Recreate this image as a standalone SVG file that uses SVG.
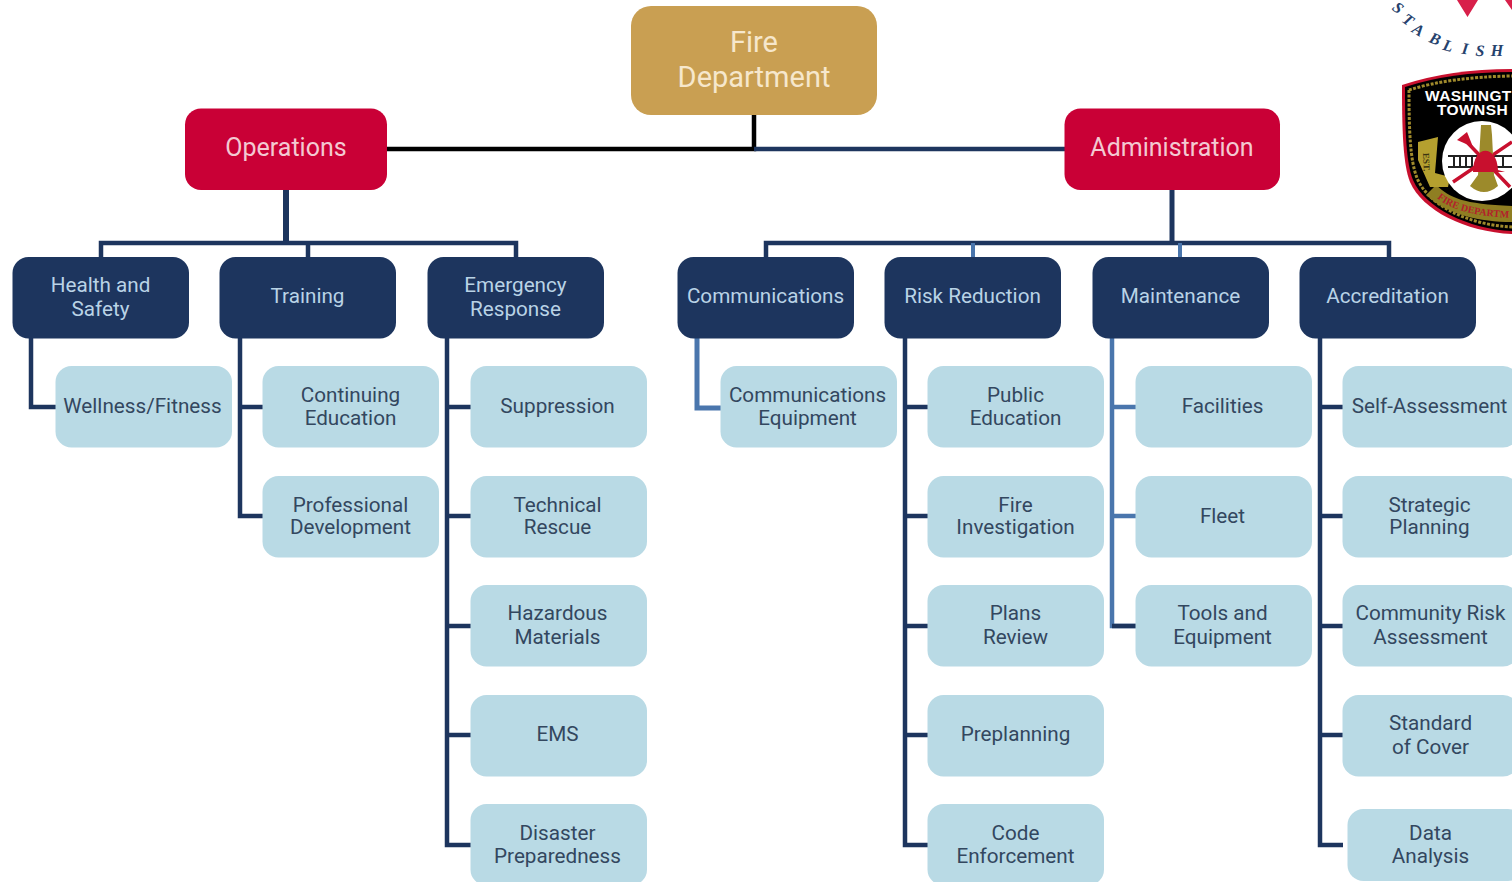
<svg xmlns="http://www.w3.org/2000/svg" width="1512" height="882" viewBox="0 0 1512 882">
<style>
text{font-family:Roboto,"Liberation Sans",sans-serif;text-anchor:middle}
.c{fill:none;stroke:#1d355e;stroke-width:4.5}
.m{fill:none;stroke:#4a76ad;stroke-width:4.5}
.k{fill:none;stroke:#000;stroke-width:4.5}
.d rect,.l rect{width:176.500px;height:81.500px;rx:16px}
.d text,.l text{transform:translate(-.5px,-.5px)}
.d rect{fill:#1d355e}.d text{fill:#b9d3e6;font-size:20.700px}
.l rect{fill:#b9dae5}.l text{fill:#33475f;font-size:20.700px}
.r rect{fill:#c90036}.r text{fill:#f3c9d2;font-size:25px}
#logo .arc text{font-family:"Liberation Serif",serif;font-weight:700;font-style:italic;font-size:16px;fill:#26426d}
#logo .sb text{font-family:"Liberation Sans",sans-serif;font-weight:700;font-size:15.500px;fill:#fff;text-anchor:start;letter-spacing:.4px}
#logo .gd{font-family:"Liberation Serif",serif;font-weight:700;font-size:10px;text-anchor:start}
</style>
<rect width="1512" height="882" fill="#fff"/>
<g id="connectors">
<path class="k" d="M754 115V149H387"/>
<path class="c" d="M754 149H1065"/>
<path class="c" d="M286 190V243" style="stroke-width:6"/>
<path class="c" d="M101 257V243H516V257M308 243V257"/>
<path class="c" d="M1172 190V243" style="stroke-width:5"/>
<path class="c" d="M766 257V243H1389V257"/>
<path class="m" d="M973 243V257M1180 243V257" style="stroke-width:4"/>
<path class="c" d="M31 338V407H56"/>
<path class="c" d="M240 338V516H263M240 407H263"/>
<path class="c" d="M447 338V845H471M447 407H471M447 516H471M447 626H471M447 735H471"/>
<path class="m" d="M697 338V408H721" style="stroke-width:5"/>
<path class="c" d="M905 338V845H929M905 407H929M905 516H929M905 626H929M905 735H929"/>
<path class="m" d="M1112 338V626H1136M1112 407H1136M1112 516H1136"/>
<path class="c" d="M1112 626H1136"/>
<path class="c" d="M1320 338V845H1343M1320 407H1343M1320 516H1343M1320 626H1343M1320 735H1343"/>
</g>
<g id="fire-department"><rect x="631" y="6" width="246" height="109" rx="20" fill="#c99f52"/><text x="754" y="52" font-size="29" fill="#f6e7cc">Fire</text><text x="754" y="87" font-size="29" fill="#f6e7cc">Department</text></g>
<g id="operations" class="r"><rect x="185" y="108.500" width="202" height="81.500" rx="16"/><text x="286" y="156">Operations</text></g>
<g id="administration" class="r"><rect x="1064.500" y="108.500" width="215.500" height="81.500" rx="16"/><text x="1172" y="156">Administration</text></g>

<g id="health-safety" class="d"><rect x="12.500" y="257"/><text x="101" y="292">Health and</text><text x="101" y="316">Safety</text></g>
<g id="training" class="d"><rect x="219.500" y="257"/><text x="308" y="303">Training</text></g>
<g id="emergency-response" class="d"><rect x="427.500" y="257"/><text x="516" y="292">Emergency</text><text x="516" y="316">Response</text></g>
<g id="communications" class="d"><rect x="677.500" y="257"/><text x="766" y="303">Communications</text></g>
<g id="risk-reduction" class="d"><rect x="884.500" y="257"/><text x="973" y="303">Risk Reduction</text></g>
<g id="maintenance" class="d"><rect x="1092.500" y="257"/><text x="1181" y="303">Maintenance</text></g>
<g id="accreditation" class="d"><rect x="1299.500" y="257"/><text x="1388" y="303">Accreditation</text></g>

<g id="wellness" class="l"><rect x="55.500" y="366"/><text x="143" y="413">Wellness/Fitness</text></g>
<g id="continuing-education" class="l"><rect x="262.500" y="366"/><text x="351" y="402">Continuing</text><text x="351" y="425">Education</text></g>
<g id="professional-development" class="l"><rect x="262.500" y="476"/><text x="351" y="512">Professional</text><text x="351" y="534">Development</text></g>

<g id="suppression" class="l"><rect x="470.500" y="366"/><text x="558" y="413">Suppression</text></g>
<g id="technical-rescue" class="l"><rect x="470.500" y="476"/><text x="558" y="512">Technical</text><text x="558" y="534">Rescue</text></g>
<g id="hazardous-materials" class="l"><rect x="470.500" y="585"/><text x="558" y="620">Hazardous</text><text x="558" y="644">Materials</text></g>
<g id="ems" class="l"><rect x="470.500" y="695"/><text x="558" y="741">EMS</text></g>
<g id="disaster-preparedness" class="l"><rect x="470.500" y="804"/><text x="558" y="840">Disaster</text><text x="558" y="863">Preparedness</text></g>

<g id="communications-equipment" class="l"><rect x="720.500" y="366"/><text x="808" y="402">Communications</text><text x="808" y="425">Equipment</text></g>

<g id="public-education" class="l"><rect x="927.500" y="366"/><text x="1016" y="402">Public</text><text x="1016" y="425">Education</text></g>
<g id="fire-investigation" class="l"><rect x="927.500" y="476"/><text x="1016" y="512">Fire</text><text x="1016" y="534">Investigation</text></g>
<g id="plans-review" class="l"><rect x="927.500" y="585"/><text x="1016" y="620">Plans</text><text x="1016" y="644">Review</text></g>
<g id="preplanning" class="l"><rect x="927.500" y="695"/><text x="1016" y="741">Preplanning</text></g>
<g id="code-enforcement" class="l"><rect x="927.500" y="804"/><text x="1016" y="840">Code</text><text x="1016" y="863">Enforcement</text></g>

<g id="facilities" class="l"><rect x="1135.500" y="366"/><text x="1223" y="413">Facilities</text></g>
<g id="fleet" class="l"><rect x="1135.500" y="476"/><text x="1223" y="523">Fleet</text></g>
<g id="tools-equipment" class="l"><rect x="1135.500" y="585"/><text x="1223" y="620">Tools and</text><text x="1223" y="644">Equipment</text></g>

<g id="self-assessment" class="l"><rect x="1342.500" y="366"/><text x="1430" y="413">Self-Assessment</text></g>
<g id="strategic-planning" class="l"><rect x="1342.500" y="476"/><text x="1430" y="512">Strategic</text><text x="1430" y="534">Planning</text></g>
<g id="community-risk" class="l"><rect x="1342.500" y="585"/><text x="1431" y="620">Community Risk</text><text x="1431" y="644">Assessment</text></g>
<g id="standard-cover" class="l"><rect x="1342.500" y="695"/><text x="1431" y="730">Standard</text><text x="1431" y="754">of Cover</text></g>
<g id="data-analysis" class="l"><rect x="1347.500" y="809" style="height:72px"/><text x="1431" y="840">Data</text><text x="1431" y="863">Analysis</text></g>

<g id="logo">
<path d="M1457 0H1478L1467.500 17ZM1505 0H1512V10Z" fill="#d8204a"/>
<g class="arc">
<text transform="translate(1398 8) rotate(40)" y="5">S</text>
<text transform="translate(1408 20) rotate(36)" y="5">T</text>
<text transform="translate(1418 30) rotate(30)" y="5">A</text>
<text transform="translate(1435 39) rotate(22)" y="5">B</text>
<text transform="translate(1448 46) rotate(15)" y="5">L</text>
<text transform="translate(1465 49) rotate(8)" y="5">I</text>
<text transform="translate(1480 51) rotate(4)" y="5">S</text>
<text transform="translate(1497 51)" y="5">H</text>
</g>
<path d="M1402 85Q1450 69 1512 69V234C1465 232 1422 210 1410 182 1403 165 1402 130 1402 85Z" fill="#c8102e"/>
<path d="M1405 87Q1450 72 1512 72V231C1468 229 1425 208 1413 180 1406 163 1405 130 1405 87Z" fill="#000"/>
<path d="M1409 90Q1450 77 1512 76M1409 90C1409 130 1410 160 1417 178 1428 205 1468 225 1512 227" fill="none" stroke="#a08a2c" stroke-width="3" stroke-dasharray="3 1.500"/>
<g class="sb"><text x="1425" y="101">WASHINGT</text><text x="1437" y="115">TOWNSH</text></g>
<path d="M1436 185C1450 198 1463 204 1512 206V222C1480 222 1448 215 1426 195Z" fill="#8f7e22"/>
<path d="M1418 142L1438 137 1435 173 1450 177 1448 187 1430 187 1418 160Z" fill="#b5a02f"/>
<text class="gd" transform="translate(1423 153) rotate(88)" fill="#3b3410" style="font-size:9px">EST.</text>
<path id="arcfd" d="M1437 198C1452 211 1480 217 1516 218" fill="none"/>
<text class="gd" fill="#b3202c"><textPath href="#arcfd">FIRE DEPARTM</textPath></text>
<circle cx="1482" cy="161" r="40" fill="#fff"/>
<path d="M1448 156H1512M1448 167H1512M1454 156V167M1460 156V167M1466 156V167M1472 156V167M1503 156V167" stroke="#222" stroke-width="2" fill="none"/>
<path d="M1453 182L1512 142M1463 138L1510 187" stroke="#c8102e" stroke-width="3.500" fill="none"/>
<path d="M1457 140L1467 132 1473 147Z" fill="#c8102e"/>
<path d="M1481 125H1491L1492 135 1494 175 1498 186Q1484 198 1470 186L1478 175Z" fill="#9c8a2b"/>
<path d="M1473 172C1473 144 1497 144 1498 170L1505 172H1468Z" fill="#c8102e"/>
</g>
</svg>
